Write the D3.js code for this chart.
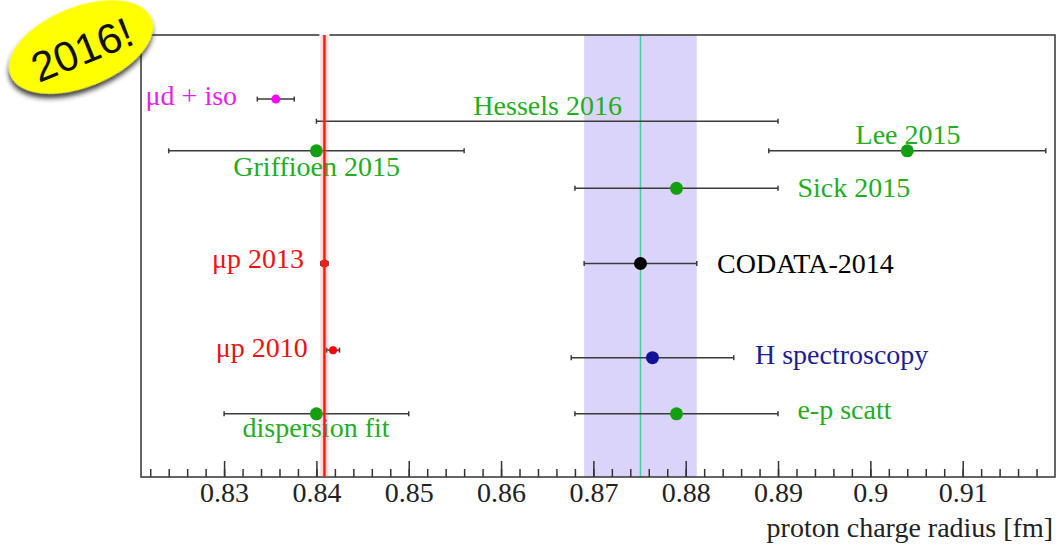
<!DOCTYPE html>
<html>
<head>
<meta charset="utf-8">
<script src="https://cdn.jsdelivr.net/npm/d3@7"></script>
<style>
  body { margin: 0; background: #fff; }
  svg { display: block; }
  text { font-family: "Liberation Serif", "Times New Roman", serif; }
</style>
</head>
<body>
<svg id="chart" width="1057" height="548"></svg>
<script>
// measurements of the proton charge radius [fm]
var names  = ["μd + iso", "Hessels 2016", "Griffioen 2015", "Lee 2015", "Sick 2015", "CODATA-2014",
              "μp 2013", "μp 2010", "H spectroscopy", "dispersion fit", "e-p scatt"];
var values = [0.8356, 0.8650, 0.8400, 0.9040, 0.8790, 0.8751, 0.84087, 0.8418, 0.8764, 0.8400, 0.8790];
var errors = [0.0020, 0.0250, 0.0160, 0.0150, 0.0110, 0.0061, 0.00039, 0.0007, 0.0088, 0.0100, 0.0110];
var rows   = [85.5, 80.5, 73.8, 73.8, 65.3, 48.3, 48.3, 28.7, 27.0, 14.3, 14.3];
var kinds  = ["muD", "none", "ep", "ep", "ep", "codata", "muP", "muP", "H", "ep", "ep"];

// where each label sits (value, row of the baseline)
var labelX = [0.8215, 0.8570, 0.8310, 0.8984, 0.8921, 0.8834, 0.8287, 0.8291, 0.8875, 0.8320, 0.8921];
var labelY = [84.1, 81.8, 68.2, 75.3, 63.3, 46.2, 47.2, 27.2, 25.6, 9.1, 13.1];

// reference values: muonic hydrogen (red line) and CODATA-2014 (band)
var muonicRadius = 0.84087;
var codataRadius = 0.8751, codataError = 0.0061;

var xTicks = d3.range(0.83, 0.9101, 0.01);
var xMinor = d3.range(0.822, 0.9191, 0.002);

var styles = {
  muD:    { dot: "#ff00ff", text: "#e81ee8", r: 4.5 },
  none:   { dot: "none",    text: "#22ad22", r: 0 },
  ep:     { dot: "#12a012", text: "#22ad22", r: 6.5 },
  codata: { dot: "#000000", text: "#000000", r: 6.5 },
  muP:    { dot: "#ff0000", text: "#ee1111", r: 4 },
  H:      { dot: "#121296", text: "#1c1c94", r: 6.5 }
};

drawChart("#chart");

function drawChart(elm) {
  var svg = d3.select(elm);
  var margin = { top: 35, left: 141 },
    width = 914,
    height = 442;

  var x = d3.scaleLinear().domain([0.821, 0.92]).range([margin.left, margin.left + width]);
  var y = d3.scaleLinear().domain([0, 100]).range([margin.top + height, margin.top]);

  var defs = svg.append("defs");
  var f = defs.append("filter").attr("id", "shadow")
    .attr("x", "-30%").attr("y", "-30%").attr("width", "160%").attr("height", "160%");
  f.append("feDropShadow").attr("dx", -2).attr("dy", 4).attr("stdDeviation", 2.5)
    .attr("flood-color", "#222").attr("flood-opacity", 0.85);

  // CODATA band + central line
  svg.append("rect")
    .attr("x", x(codataRadius - codataError))
    .attr("y", margin.top)
    .attr("width", x(codataRadius + codataError) - x(codataRadius - codataError))
    .attr("height", height)
    .attr("fill", "#dad4fb");
  svg.append("line")
    .attr("x1", x(codataRadius)).attr("x2", x(codataRadius))
    .attr("y1", margin.top).attr("y2", margin.top + height)
    .attr("stroke", "#3fd09a").attr("stroke-width", 1.5);

  // frame
  svg.append("rect")
    .attr("x", margin.left).attr("y", margin.top)
    .attr("width", width).attr("height", height)
    .attr("fill", "none").attr("stroke", "#333").attr("stroke-width", 1.5);

  // axis ticks (pointing inwards)
  var axisG = svg.append("g")
    .attr("transform", `translate(0,${margin.top + height})`)
    .call(d3.axisBottom(x).tickValues(xTicks).tickSizeInner(-16).tickSizeOuter(0).tickPadding(5)
      .tickFormat(d => d3.format("~g")(+d.toFixed(2))));
  axisG.select(".domain").remove();
  axisG.selectAll(".tick line").attr("stroke", "#333").attr("stroke-width", 1.5);
  axisG.selectAll(".tick text")
    .style("font-family", "Liberation Serif").attr("font-size", 28).attr("fill", "#222");

  var minorG = svg.append("g")
    .attr("transform", `translate(0,${margin.top + height})`)
    .call(d3.axisBottom(x).tickValues(xMinor).tickSizeInner(-8).tickSizeOuter(0).tickFormat(""));
  minorG.select(".domain").remove();
  minorG.selectAll(".tick line").attr("stroke", "#333").attr("stroke-width", 1.5);

  svg.append("text")
    .attr("x", margin.left + width - 2).attr("y", 537)
    .attr("text-anchor", "end").attr("font-size", 28).attr("fill", "#222")
    .text("proton charge radius [fm]");

  // error bars
  var idx = d3.range(names.length);
  var bars = svg.append("g").selectAll("g").data(idx).join("g")
    .attr("stroke", "#3a3a3a").attr("stroke-width", 1.5);
  bars.append("line")
    .attr("x1", i => x(values[i] - errors[i])).attr("x2", i => x(values[i] + errors[i]))
    .attr("y1", i => y(rows[i])).attr("y2", i => y(rows[i]));
  bars.append("line")
    .attr("x1", i => x(values[i] - errors[i])).attr("x2", i => x(values[i] - errors[i]))
    .attr("y1", i => y(rows[i]) - 2.5).attr("y2", i => y(rows[i]) + 2.5);
  bars.append("line")
    .attr("x1", i => x(values[i] + errors[i])).attr("x2", i => x(values[i] + errors[i]))
    .attr("y1", i => y(rows[i]) - 2.5).attr("y2", i => y(rows[i]) + 2.5);

  // markers
  svg.append("g").selectAll("circle").data(idx.filter(i => styles[kinds[i]].r > 0)).join("circle")
    .attr("cx", i => x(values[i]))
    .attr("cy", i => y(rows[i]))
    .attr("r", i => styles[kinds[i]].r)
    .attr("fill", i => styles[kinds[i]].dot);

  // labels
  svg.append("g").selectAll("text").data(idx).join("text")
    .attr("x", i => x(labelX[i]))
    .attr("y", i => y(labelY[i]))
    .attr("font-size", 28)
    .attr("fill", i => styles[kinds[i]].text)
    .text(i => names[i]);

  // muonic hydrogen line
  var mx = x(muonicRadius);
  svg.append("rect")
    .attr("x", mx - 5).attr("y", margin.top - 2).attr("width", 10).attr("height", 4)
    .attr("fill", "#fff");
  svg.append("rect")
    .attr("x", mx - 4).attr("y", margin.top).attr("width", 8).attr("height", height)
    .attr("fill", "#ff6060").attr("opacity", 0.25);
  svg.append("line")
    .attr("x1", mx).attr("x2", mx)
    .attr("y1", margin.top).attr("y2", margin.top + height)
    .attr("stroke", "#ff1a1a").attr("stroke-width", 2.5);

  // "2016!" badge
  var badge = svg.append("g").attr("transform", "translate(81,47) rotate(-22)");
  badge.append("ellipse")
    .attr("rx", 76).attr("ry", 40)
    .attr("fill", "#ffff00")
    .attr("filter", "url(#shadow)");
  badge.append("text")
    .attr("y", 3)
    .attr("text-anchor", "middle")
    .attr("dominant-baseline", "central")
    .style("font-family", "'Liberation Sans', Arial, sans-serif")
    .attr("font-size", 42)
    .attr("fill", "#111")
    .text("2016!");
}
</script>
</body>
</html>
